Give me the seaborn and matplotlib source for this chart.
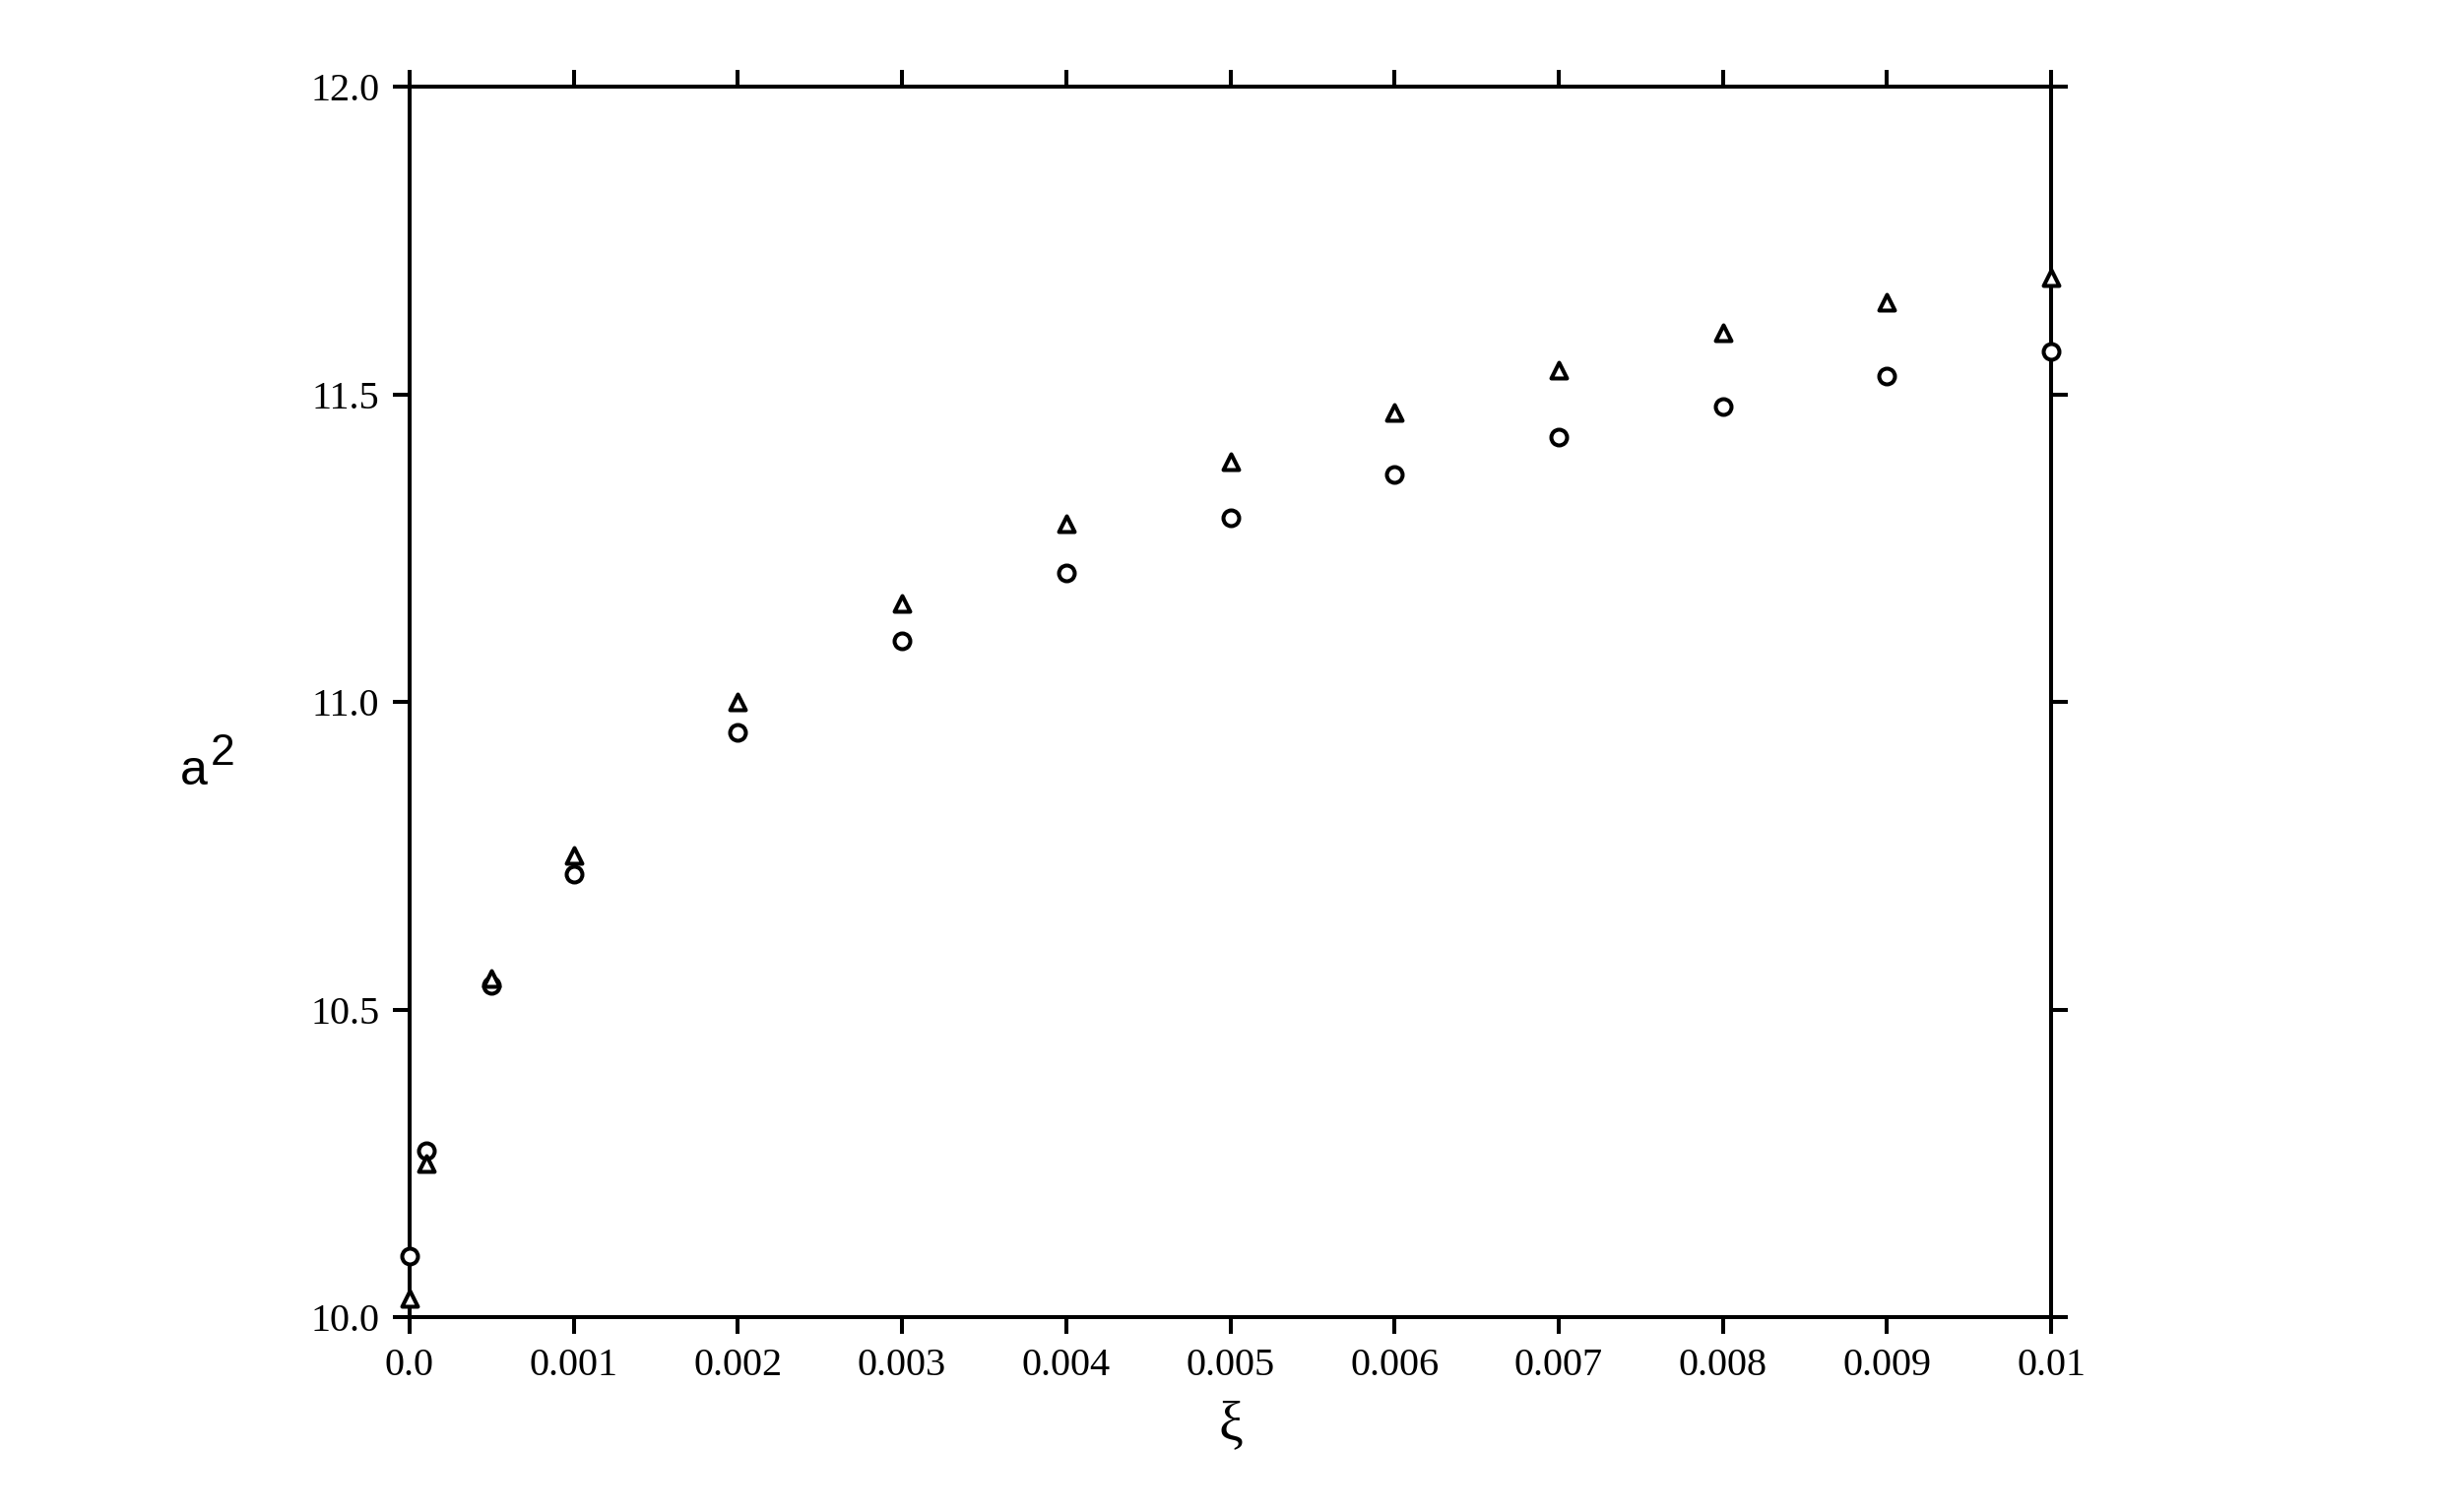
import matplotlib
matplotlib.use('Agg')
import matplotlib.pyplot as plt
import seaborn as sns
import numpy as np
import pandas as pd

# данные
xi = [0.0, 0.0001, 0.0005, 0.001, 0.002, 0.003, 0.004, 0.005,
      0.006, 0.007, 0.008, 0.009, 0.01]
a2_circle = [10.10, 10.27, 10.54, 10.72, 10.95, 11.10, 11.21, 11.30,
             11.37, 11.43, 11.48, 11.53, 11.57]
a2_triangle = [10.03, 10.25, 10.55, 10.75, 11.00, 11.16, 11.29, 11.39,
               11.47, 11.54, 11.60, 11.65, 11.69]

x_ticks = [0.0, 0.001, 0.002, 0.003, 0.004, 0.005, 0.006, 0.007, 0.008, 0.009, 0.01]
x_tick_labels = ['0.0', '0.001', '0.002', '0.003', '0.004', '0.005',
                 '0.006', '0.007', '0.008', '0.009', '0.01']
y_ticks = [10.0, 10.5, 11.0, 11.5, 12.0]
y_tick_labels = ['10.0', '10.5', '11.0', '11.5', '12.0']

df = pd.DataFrame({'xi': xi, 'circle': a2_circle, 'triangle': a2_triangle})

sns.set_style('ticks')
plt.rcParams['font.family'] = ['Liberation Serif', 'DejaVu Serif']
plt.rcParams['text.color'] = 'black'
plt.rcParams['axes.labelcolor'] = 'black'

fig = plt.figure(figsize=(24.79, 15.36), dpi=100)
ax = fig.add_axes([0.1678, 0.1289, 0.8403 - 0.1678, 0.9427 - 0.1289])

lw = 2.9
sns.scatterplot(data=df, x='xi', y='circle', marker='o', s=11.5 ** 2,
                facecolor='white', edgecolor='black', linewidth=2.9,
                clip_on=False, zorder=5, ax=ax)
sns.scatterplot(data=df, x='xi', y='triangle', marker='^', s=11.5 ** 2,
                facecolor='white', edgecolor='black', linewidth=2.9,
                clip_on=False, zorder=5, ax=ax)

ax.set_xlim(0, 0.01)
ax.set_ylim(10.0, 12.0)
ax.set_xticks(x_ticks, x_tick_labels)
ax.set_yticks(y_ticks, y_tick_labels)
ax.tick_params(direction='out', length=12, width=lw, labelsize=29,
               top=True, right=True, pad=10, colors='black')
for sp in ax.spines.values():
    sp.set_visible(True)
    sp.set_linewidth(lw)
    sp.set_color('black')

ax.set_xlabel('ξ', fontsize=40, labelpad=12, color='black')
ax.set_ylabel('')

# подпись оси y: a и верхний индекс 2
fig.text(183 / 2479, 1 - 797 / 1536, 'a', fontsize=36, color='black',
         family='Liberation Sans', ha='left', va='baseline')
fig.text(214 / 2479, 1 - 777 / 1536, '2', fontsize=32, color='black',
         family='Liberation Sans', ha='left', va='baseline')

fig.savefig('out.png', dpi=100, facecolor='white')
